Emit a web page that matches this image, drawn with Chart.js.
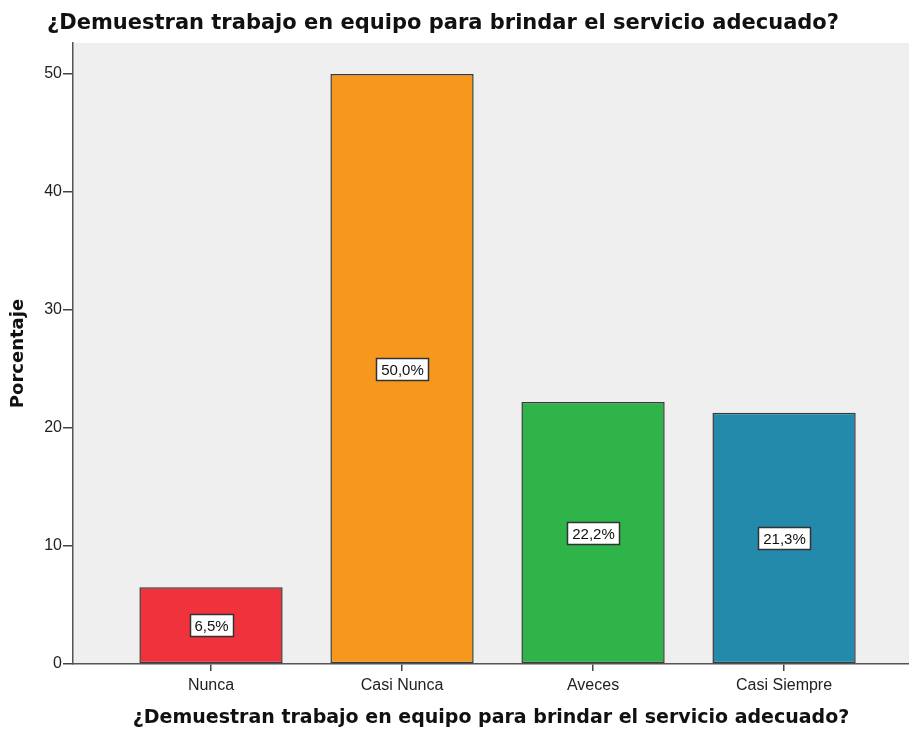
<!DOCTYPE html>
<html>
<head>
<meta charset="utf-8">
<script src="https://cdn.jsdelivr.net/npm/chart.js@4.4.0/dist/chart.umd.min.js"></script>
<style>
	body{margin:0;background:#fff;}
	#wrap{width:909px;height:729px;}
</style>
</head>
<body>
<div id="wrap"><canvas id="barChart" width="909" height="729"></canvas></div>
<script>
var categorias = ['Nunca', 'Casi Nunca', 'Aveces', 'Casi Siempre'];
var porcentajes = [6.5, 50.0, 22.2, 21.3];
var colores = ['#ef323c', '#f7981e', '#2fb44a', '#248aab'];
var yTicks = [0, 10, 20, 30, 40, 50];
var titulo = '¿Demuestran trabajo en equipo para brindar el servicio adecuado?';

var main={
	initPage:function(){
		main.defineGrid();
	},
	defineGrid:function(){
		barras();
	}
}

// fondo gris del area del grafico + titulo arriba
var fondoPlugin = {
	id: 'fondo',
	beforeDraw: function(chart){
		var a = chart.chartArea;
		var ctx = chart.ctx;
		ctx.save();
		ctx.fillStyle = '#efefef';
		ctx.fillRect(a.left, a.top, a.right - a.left, a.bottom - a.top);
		ctx.restore();
	},
	afterDraw: function(chart){
		var ctx = chart.ctx;
		ctx.save();
		ctx.font = 'bold 21px "DejaVu Sans", Verdana, sans-serif';
		ctx.fillStyle = '#111';
		ctx.textAlign = 'center';
		ctx.textBaseline = 'middle';
		ctx.fillText(titulo, 443, 24);
		ctx.restore();
	}
}

// etiquetas con caja blanca en medio de cada barra
var etiquetaPlugin = {
	id: 'etiquetas',
	afterDatasetsDraw: function(chart){
		var ctx = chart.ctx;
		var meta = chart.getDatasetMeta(0);
		ctx.save();
		ctx.font = '15px "Liberation Sans", Arial, sans-serif';
		ctx.textAlign = 'center';
		ctx.textBaseline = 'middle';
		meta.data.forEach(function(bar, i){
			var txt = porcentajes[i].toFixed(1).replace('.', ',') + '%';
			var w = Math.round(ctx.measureText(txt).width + 9);
			var h = 22;
			var cy = Math.round((bar.y + bar.base) / 2);
			var cx = Math.round(bar.x);
			var x0 = Math.round(cx - w/2), y0 = Math.round(cy - h/2);
			ctx.fillStyle = '#ffffff';
			ctx.fillRect(x0, y0, w, h);
			ctx.strokeStyle = '#333333';
			ctx.lineWidth = 1.5;
			ctx.strokeRect(x0 + 0.5, y0 + 0.5, w, h);
			ctx.fillStyle = '#111111';
			ctx.fillText(txt, cx + 0.5, cy + 1.5);
		});
		ctx.restore();
	}
}

function barras(){
	var datos = porcentajes.map(function(v, i){ return {x: i, y: v}; });
	new Chart($('barChart'), {
		type: 'bar',
		data: {
			datasets: [{
				data: datos,
				backgroundColor: colores,
				borderColor: '#3a3a3a',
				borderWidth: 1.5,
				borderSkipped: false,
				barPercentage: 0.75,
				categoryPercentage: 1
			}]
		},
		options: {
			responsive: false,
			animation: false,
			layout: { padding: { top: 43, left: 0, right: 0, bottom: 0 } },
			plugins: {
				legend: { display: false },
				tooltip: { enabled: false },
				title: { display: false }
			},
			scales: {
				x: {
					type: 'linear',
					offset: false,
					min: -0.7225,
					max: 3.654,
					afterBuildTicks: function(scale){
						scale.ticks = categorias.map(function(c, i){ return {value: i}; });
					},
					afterFit: function(scale){ scale.height = 65; },
					grid: { offset: false, drawOnChartArea: false, drawTicks: true, tickLength: 7, color: '#444', lineWidth: 1.5 },
					border: { display: true, color: '#555', width: 1.5 },
					ticks: {
						padding: 5,
						color: '#222',
						font: { family: '"Liberation Sans", Arial, sans-serif', size: 16 },
						callback: function(v){ return categorias[v]; }
					},
					title: {
						display: true,
						text: titulo,
						color: '#111',
						font: { family: '"DejaVu Sans", Verdana, sans-serif', size: 19, weight: 'bold' },
						padding: { top: 4, bottom: 0 }
					}
				},
				y: {
					min: 0,
					max: 52.63,
					afterBuildTicks: function(scale){
						scale.ticks = yTicks.map(function(v){ return {value: v}; });
					},
					afterFit: function(scale){ scale.width = 73; },
					grid: { drawOnChartArea: false, drawTicks: true, tickLength: 10, color: '#444', lineWidth: 1.5 },
					border: { display: true, color: '#555', width: 1.5 },
					ticks: {
						padding: 1,
						color: '#222',
						font: { family: '"Liberation Sans", Arial, sans-serif', size: 16 }
					},
					title: {
						display: true,
						text: 'Porcentaje',
						color: '#111',
						font: { family: '"DejaVu Sans", Verdana, sans-serif', size: 18, weight: 'bold' },
						padding: { top: 8, bottom: 0 }
					}
				}
			}
		},
		plugins: [fondoPlugin, etiquetaPlugin]
	});
}

function $(id){ return document.getElementById(id); }

main.initPage();
</script>
</body>
</html>
